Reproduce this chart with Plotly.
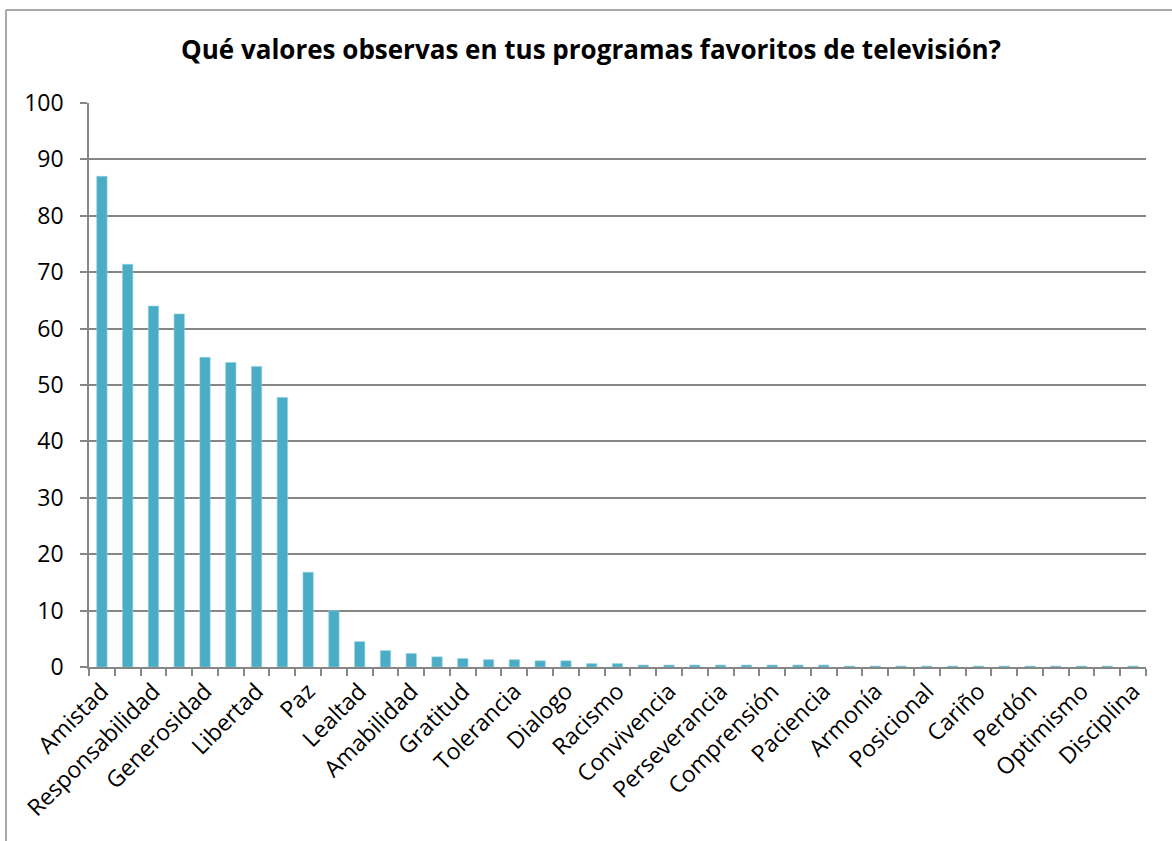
import plotly.graph_objects as go

title = "Qué valores observas en tus programas favoritos de televisión?"

# 41 categories; only every other one is labelled in the reference
tick_labels = ["Amistad", "Responsabilidad", "Generosidad", "Libertad", "Paz",
               "Lealtad", "Amabilidad", "Gratitud", "Tolerancia", "Dialogo",
               "Racismo", "Convivencia", "Perseverancia", "Comprensión", "Paciencia",
               "Armonía", "Posicional", "Cariño", "Perdón", "Optimismo", "Disciplina"]

values = [87.0, 71.4, 64.0, 62.6, 54.9, 54.0, 53.3, 47.8, 16.8, 10.0,
          4.5, 2.9, 2.4, 1.8, 1.5, 1.3, 1.3, 1.1, 1.1, 0.6,
          0.6, 0.35, 0.35, 0.35, 0.35, 0.35, 0.35, 0.35, 0.35, 0.17,
          0.17, 0.17, 0.17, 0.17, 0.17, 0.17, 0.17, 0.17, 0.17, 0.17, 0.17]

positions = list(range(len(values)))
label_positions = positions[::2]

FONT = "Open Sans, sans-serif"
GRID = "#868686"

fig = go.Figure(go.Bar(
    x=positions, y=values,
    marker=dict(color="#4BACC6", line=dict(color="#8fd0e0", width=0.6)),
    width=0.4,
))

W, H = 1172, 841
ml, mr, mt, mb = 89, 26, 103, 174
pw, ph = W - ml - mr, H - mt - mb

fx0 = (6 - ml) / pw
fy0 = (H - mb - 10) / ph

fig.update_layout(
    width=W, height=H,
    margin=dict(l=ml, r=mr, t=mt, b=mb),
    paper_bgcolor="white", plot_bgcolor="white",
    showlegend=False,
    title=dict(text="<b>" + title + "</b>", x=(591 - ml) / pw, xref="paper",
               y=1 - 50 / H, yanchor="middle", xanchor="center",
               font=dict(family=FONT, size=26, color="black")),
    font=dict(family=FONT, size=23, color="black"),
    xaxis=dict(
        range=[-0.5, len(values) - 0.5],
        tickmode="array", tickvals=label_positions, ticktext=tick_labels,
        tickangle=-45, ticks="", showgrid=False,
        showline=True, linecolor=GRID, linewidth=1.5,
        tickfont=dict(family=FONT, size=23, color="black"),
        minor=dict(tick0=-0.5, dtick=1, ticks="outside", ticklen=7,
                   tickcolor=GRID, tickwidth=1.5, showgrid=False),
        zeroline=False,
    ),
    yaxis=dict(
        range=[0, 100], dtick=10, tick0=0,
        showgrid=True, gridcolor=GRID, gridwidth=1.5,
        showline=True, linecolor=GRID, linewidth=1.5,
        ticks="outside", ticklen=7, tickcolor=GRID, tickwidth=1.5,
        ticklabelstandoff=12,
        tickfont=dict(family=FONT, size=23, color="black"),
        zeroline=False,
    ),
    shapes=[
        dict(type="line", xref="paper", yref="paper",
             x0=fx0, x1=(W + 10 - ml) / pw, y0=fy0, y1=fy0,
             line=dict(color="#8c8c8c", width=1.5)),
        dict(type="line", xref="paper", yref="paper",
             x0=fx0, x1=fx0, y0=fy0, y1=-(mb + 10) / ph,
             line=dict(color="#8c8c8c", width=1.5)),
    ],
)

fig.write_html("out.html", config={"displayModeBar": False},
               post_script="document.body.style.margin='0px';")
